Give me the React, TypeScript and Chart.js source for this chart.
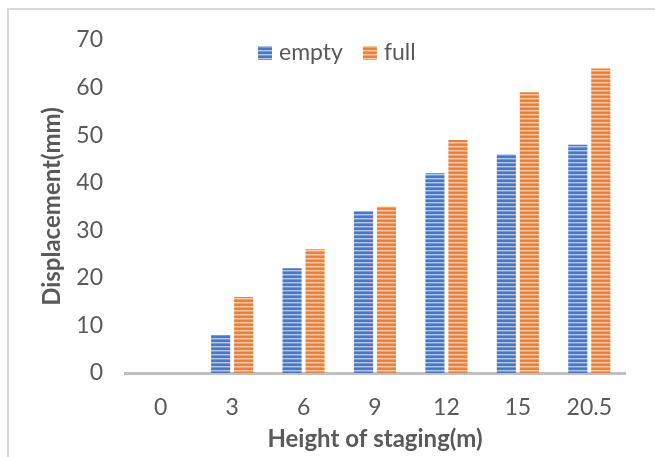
import { useEffect, useRef } from "react";
import { Chart, registerables } from "chart.js";

Chart.register(...registerables);

const categories = ["0", "3", "6", "9", "12", "15", "20.5"];
const emptyValues = [0, 8, 22, 34, 42, 46, 48];
const fullValues = [0, 16, 26, 35, 49, 59, 64];
const seriesLabels = ["empty", "full"];
const yMin = 0;
const yMax = 70;
const yStep = 10;
const xTitle = "Height of staging(m)";
const yTitle = "Displacement(mm)";

const FONT = "Lato";
const TEXT = "#595959";

function makePattern(base: string, light: string, mid: string) {
  const c = document.createElement("canvas");
  c.width = 4;
  c.height = 4;
  const g = c.getContext("2d")!;
  g.fillStyle = base;
  g.fillRect(0, 0, 4, 4);
  g.fillStyle = light;
  g.fillRect(0, 2, 4, 1);
  g.fillStyle = mid;
  g.fillRect(0, 3, 4, 1);
  return g.createPattern(c, "repeat") as CanvasPattern;
}

const legendPlugin = {
  id: "customLegend",
  afterDraw(chart: any) {
    const ctx = chart.ctx as CanvasRenderingContext2D;
    ctx.save();
    ctx.font = `23px ${FONT}`;
    ctx.textBaseline = "middle";
    let x = 258;
    const y = 46;
    const box = 14;
    chart.data.datasets.forEach((ds: any) => {
      ctx.fillStyle = ds.backgroundColor;
      ctx.fillRect(x, y, box, box);
      x += box + 7;
      ctx.fillStyle = TEXT;
      ctx.fillText(ds.label, x, y + box / 2);
      x += ctx.measureText(ds.label).width + 20;
    });
    ctx.restore();
  },
};

export default function App() {
  const ref = useRef<HTMLCanvasElement>(null);
  useEffect(() => {
    const blue = makePattern("#4a76c6", "#b3c6ea", "#7698d6");
    const orange = makePattern("#ee8036", "#f9cbaa", "#f2a06a");
    const chart = new Chart(ref.current!, {
      type: "bar",
      data: {
        labels: categories,
        datasets: [
          { label: seriesLabels[0], data: emptyValues, backgroundColor: blue as any, categoryPercentage: 0.644, barPercentage: 0.83 },
          { label: seriesLabels[1], data: fullValues, backgroundColor: orange as any, categoryPercentage: 0.644, barPercentage: 0.83 },
        ],
      },
      options: {
        responsive: false,
        animation: false,
        layout: { padding: { left: 0, right: 30, top: 40, bottom: 0 } },
        plugins: { legend: { display: false }, tooltip: { enabled: false } },
        scales: {
          x: {
            grid: { display: false, drawTicks: false },
            border: { display: true, color: "#bfbfbf", width: 3 },
            ticks: { color: TEXT, font: { family: FONT, size: 23 }, padding: 21 },
            title: { display: true, text: xTitle, color: TEXT, font: { family: FONT, size: 24, weight: "bold" }, padding: { top: 0, bottom: 3 } },
            afterFit: (s: any) => { s.height = 84; },
          },
          y: {
            min: yMin,
            max: yMax,
            ticks: { stepSize: yStep, color: TEXT, font: { family: FONT, size: 23 }, padding: 22 },
            grid: { display: false, drawTicks: false },
            border: { display: false },
            title: { display: true, text: yTitle, color: TEXT, font: { family: FONT, size: 24, weight: "bold" }, padding: { top: 38, bottom: 0 } },
            afterFit: (s: any) => { s.width = 125; },
          },
        },
      },
      plugins: [legendPlugin],
    });
    return () => chart.destroy();
  }, []);
  return (
    <div style={{ position: "absolute", left: 0, top: 0, width: 655, height: 457, overflow: "hidden", background: "#fff" }}>
      <div style={{ position: "absolute", left: 7, top: 8, width: 700, height: 500, borderLeft: "2px solid #d9d9d9", borderTop: "2px solid #d9d9d9" }} />
      <canvas ref={ref} width={655} height={457} style={{ position: "absolute", left: 0, top: 0 }} />
    </div>
  );
}
